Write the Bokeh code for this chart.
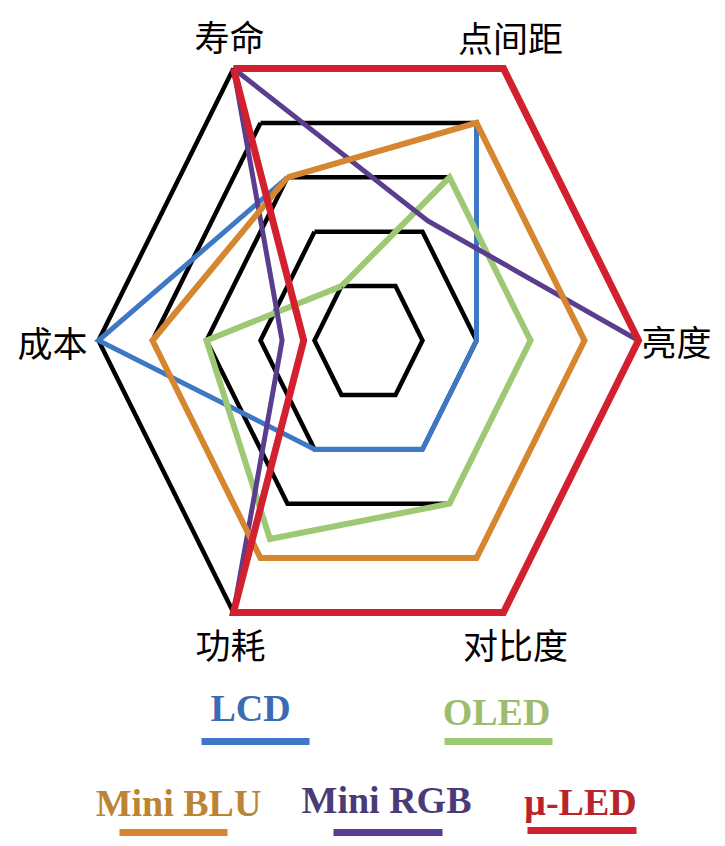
import math
from bokeh.plotting import figure
from bokeh.models import Range1d
from bokeh.core.properties import value
from bokeh.embed import file_html
from bokeh.resources import INLINE

# ---- data ----
categories = ["寿命", "点间距", "亮度", "对比度", "功耗", "成本"]
levels = [1, 2, 3, 4, 5]
series_names = ["LCD", "OLED", "Mini BLU", "Mini RGB", "μ-LED"]
lcd = [3, 4, 2, 2, 2, 5]
oled = [1, 3, 3, 3, 3.65, 3]
mini_blu = [3, 4, 4, 4, 4, 4]
mini_rgb = [5, 2.2, 5, 5, 5, 1.6]
micro_led = [5, 5, 5, 5, 5, 1.2]

# ---- styling / layout ----
line_colors = {"LCD": "#3e77c3", "OLED": "#9fc874", "Mini BLU": "#d6862f",
               "Mini RGB": "#5a3d8e", "μ-LED": "#d2202f"}
text_colors = {"LCD": "#3a6cb3", "OLED": "#9cbd6d", "Mini BLU": "#bd8435",
               "Mini RGB": "#4a3b78", "μ-LED": "#b9232a"}
line_widths = {"LCD": 5, "OLED": 6, "Mini BLU": 6, "Mini RGB": 5, "μ-LED": 7}
draw_order = ["LCD", "OLED", "Mini RGB", "Mini BLU", "μ-LED"]
series_values = {"LCD": lcd, "OLED": oled, "Mini BLU": mini_blu,
                 "Mini RGB": mini_rgb, "μ-LED": micro_led}

cx, cy = 368.0, 340.0
unit = 54.0
vstretch = 1.163
angles = [120, 60, 0, -60, -120, 180]
label_offsets = [(-4, -33), (7, -32), (38, 0), (12, 31), (-3, 31), (-46, 1)]

legend_layout = {  # text center x, y, bar x0, x1, y
    "LCD": (250, 707, 201, 309, 741),
    "OLED": (496, 711, 444, 552, 741),
    "Mini BLU": (178, 802, 119, 227, 832),
    "Mini RGB": (386, 799, 333, 442, 832),
    "μ-LED": (580, 801, 527, 636, 830),
}


def pt(v, a):
    r = math.radians(a)
    return cx + v * unit * math.cos(r), cy - v * unit * vstretch * math.sin(r)


def polygon(vals):
    xs, ys = [], []
    for v, a in zip(vals, angles):
        x, y = pt(v, a)
        xs.append(x)
        ys.append(y)
    return xs + xs[:1], ys + ys[:1]


p = figure(width=720, height=840, output_backend="svg", toolbar_location=None,
           x_range=Range1d(0, 720), y_range=Range1d(840, 0),
           min_border=0, outline_line_color=None, background_fill_color="white")
p.axis.visible = False
p.grid.visible = False

# grid rings
for lv in levels:
    xs, ys = polygon([lv] * len(categories))
    p.line(xs, ys, line_color="black", line_width=4.5, line_join="miter")

# series
for name in draw_order:
    xs, ys = polygon(series_values[name])
    p.line(xs, ys, line_color=line_colors[name], line_width=line_widths[name],
           line_join="miter")

# category labels
lx, ly = [], []
for a, (dx, dy) in zip(angles, label_offsets):
    x, y = pt(levels[-1], a)
    lx.append(x + dx)
    ly.append(y + dy)
p.text(x=lx, y=ly, text=categories, text_align="center", text_baseline="middle",
       text_font=value("Noto Sans CJK SC"), text_font_size="35px", text_color="black")

# legend
for name in series_names:
    tx, ty, x0, x1, by = legend_layout[name]
    p.text(x=[tx], y=[ty], text=[name], text_align="center", text_baseline="middle",
           text_font=value("Liberation Serif"), text_font_style="bold",
           text_font_size="38px", text_color=text_colors[name])
    p.segment(x0=[x0], y0=[by], x1=[x1], y1=[by], line_color=line_colors[name],
              line_width=7)

open("out.html", "w").write(file_html(p, INLINE))
